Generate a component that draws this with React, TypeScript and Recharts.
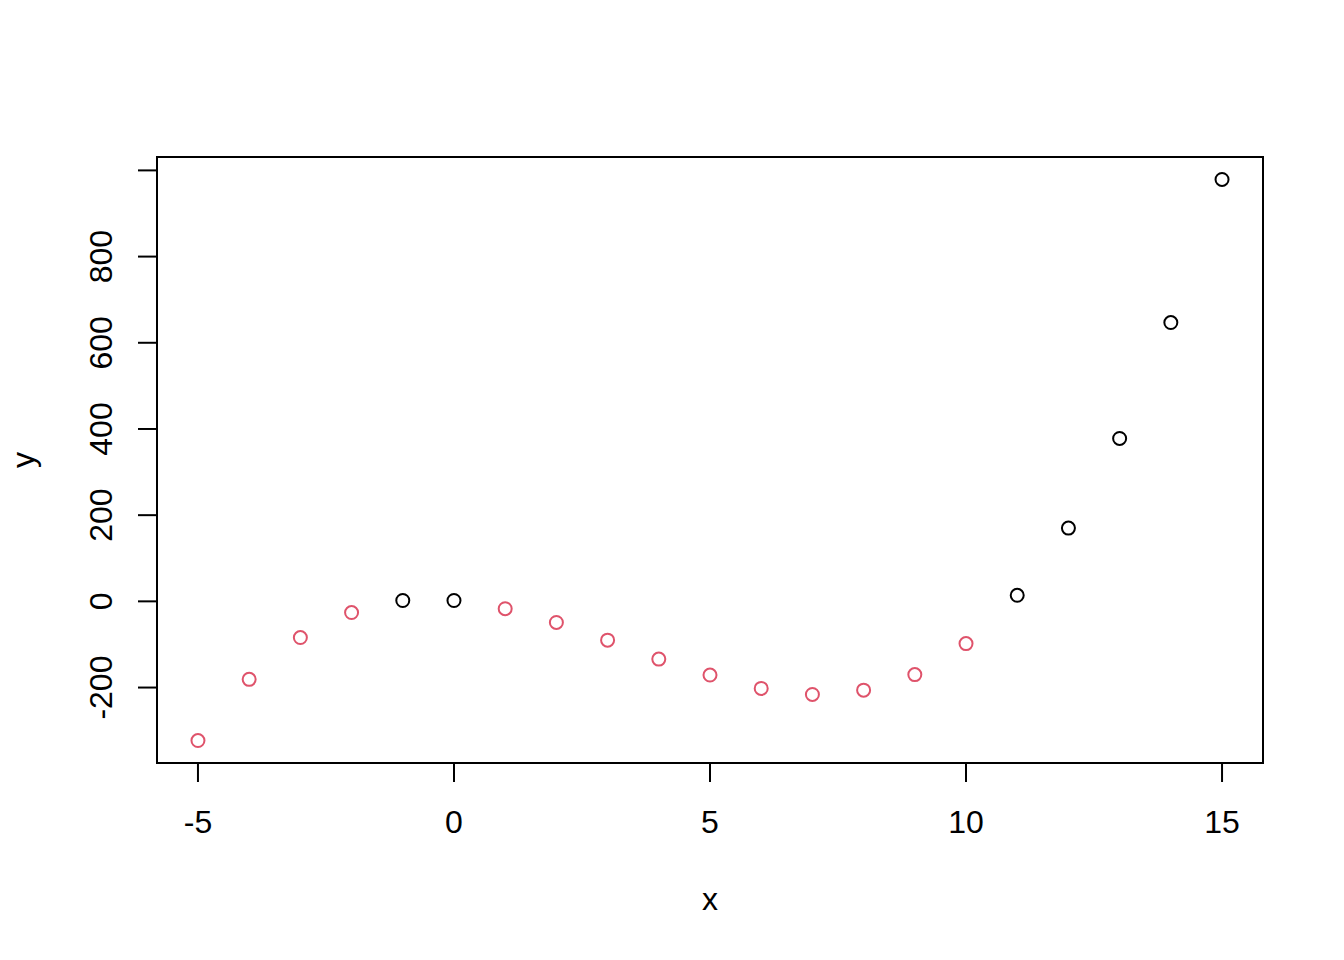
import React from "react";
import {
  ScatterChart,
  Scatter,
  XAxis,
  YAxis,
  ReferenceArea,
} from "recharts";

const xValues = [-5, -4, -3, -2, -1, 0, 1, 2, 3, 4, 5, 6, 7, 8, 9, 10, 11, 12, 13, 14, 15];
const yValues = [-323, -181, -84, -26, 2, 2, -17, -49, -90, -134, -171, -202, -216, -206, -170, -98, 14, 170, 378, 647, 979];
const xTicks = [-5, 0, 5, 10, 15];
const yTicks = [-200, 0, 200, 400, 600, 800, 1000];
const yTickLabels = ["-200", "0", "200", "400", "600", "800", ""];

const data = xValues.map((x, i) => ({ x, y: yValues[i] }));

const xMin = Math.min(...xValues);
const xMax = Math.max(...xValues);
const yMin = Math.min(...yValues);
const yMax = Math.max(...yValues);
const xPad = (xMax - xMin) * 0.04;
const yPad = (yMax - yMin) * 0.04;
const xDomain: [number, number] = [xMin - xPad, xMax + xPad];
const yDomain: [number, number] = [yMin - yPad, yMax + yPad];

const FONT = "'Liberation Sans', Arial, sans-serif";
const RED = "#DF536B";

const XTick = (props: any) => {
  const { x, payload } = props;
  return (
    <text x={x} y={833} textAnchor="middle" fontFamily={FONT} fontSize={32} fill="#000">
      {String(payload.value)}
    </text>
  );
};

const YTick = (props: any) => {
  const { y, payload } = props;
  const idx = yTicks.indexOf(payload.value);
  const label = idx >= 0 ? yTickLabels[idx] : String(payload.value);
  if (!label) return <g />;
  return (
    <text
      x={112}
      y={y}
      textAnchor="middle"
      fontFamily={FONT}
      fontSize={32}
      fill="#000"
      transform={`rotate(-90, 112, ${y})`}
    >
      {label}
    </text>
  );
};

const Dot = (props: any) => {
  const { cx, cy, payload } = props;
  const color = payload.y < 0 ? RED : "#000";
  return <circle cx={cx} cy={cy} r={6.5} fill="none" stroke={color} strokeWidth={2} />;
};

export default function App() {
  return (
    <div style={{ position: "absolute", left: 0, top: 0, width: 1344, height: 960, background: "#fff" }}>
      <ScatterChart
        width={1344}
        height={960}
        margin={{ top: 157, right: 81, bottom: 0, left: 0 }}
      >
        <XAxis
          type="number"
          dataKey="x"
          domain={xDomain}
          ticks={xTicks}
          allowDataOverflow
          height={197}
          axisLine={false}
          tickLine={{ stroke: "#000", strokeWidth: 2 }}
          tickSize={19}
          tick={<XTick />}
          interval={0}
          label={{
            value: "x",
            content: (p: any) => {
              const vb = p.viewBox || {};
              const cx = (vb.x ?? 157) + (vb.width ?? 1106) / 2;
              return (
                <text x={cx} y={910} textAnchor="middle" fontFamily={FONT} fontSize={32} fill="#000">
                  x
                </text>
              );
            },
          }}
        />
        <YAxis
          type="number"
          dataKey="y"
          domain={yDomain}
          ticks={yTicks}
          allowDataOverflow
          width={157}
          axisLine={false}
          tickLine={{ stroke: "#000", strokeWidth: 2 }}
          tickSize={19}
          tick={<YTick />}
          interval={0}
          label={{
            value: "y",
            content: (p: any) => {
              const vb = p.viewBox || {};
              const cy = (vb.y ?? 157) + (vb.height ?? 606) / 2;
              return (
                <text
                  x={34}
                  y={cy}
                  textAnchor="middle"
                  fontFamily={FONT}
                  fontSize={32}
                  fill="#000"
                  transform={`rotate(-90, 34, ${cy})`}
                >
                  y
                </text>
              );
            },
          }}
        />
        <ReferenceArea
          x1={xDomain[0]}
          x2={xDomain[1]}
          y1={yDomain[0]}
          y2={yDomain[1]}
          fill="none"
          fillOpacity={0}
          stroke="#000"
          strokeWidth={2}
          ifOverflow="extendDomain"
        />
        <Scatter data={data} shape={<Dot />} isAnimationActive={false} />
      </ScatterChart>
    </div>
  );
}
